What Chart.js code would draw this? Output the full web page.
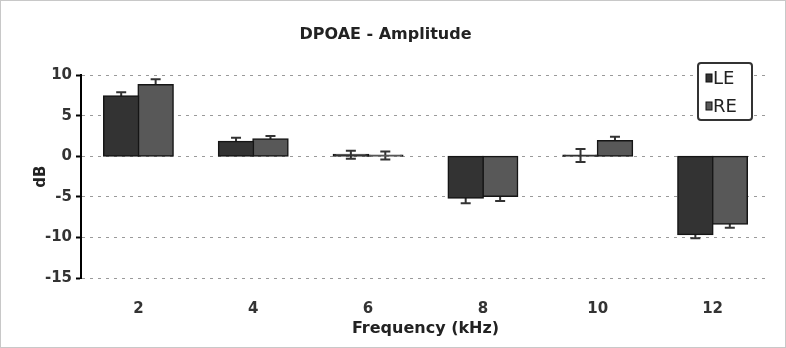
<!DOCTYPE html>
<html><head><meta charset="utf-8">
<script src="https://cdn.jsdelivr.net/npm/chart.js@4/dist/chart.umd.min.js"></script>
<style>
html,body{margin:0;padding:0;background:#fff;}
#wrap{position:relative;width:786px;height:348px;box-sizing:border-box;border:1px solid #c8c8c8;}
canvas{display:block;}
</style></head>
<body>
<div id="wrap"><canvas id="c" width="784" height="346"></canvas></div>
<script>
const categories = ['2', '4', '6', '8', '10', '12'];
const leValues = [7.4, 1.8, 0.2, -5.1, 0.1, -9.6];
const reValues = [8.8, 2.1, 0.1, -4.9, 1.9, -8.3];
const leErrors = [0.5, 0.5, 0.5, 0.7, 0.8, 0.5];
const reErrors = [0.7, 0.4, 0.5, 0.6, 0.5, 0.5];
const yTicks = [10, 5, 0, -5, -10, -15];

const FONT = '"DejaVu Sans", "Liberation Sans", Arial, sans-serif';

const errorBars = {
  id: 'errorBars',
  beforeDatasetsDraw(chart) {
    const ctx = chart.ctx;
    const y = chart.scales.y;
    ctx.save();
    ctx.strokeStyle = '#333';
    ctx.lineWidth = 2;
    chart.data.datasets.forEach((ds, di) => {
      const meta = chart.getDatasetMeta(di);
      meta.data.forEach((bar, i) => {
        const v = ds.data[i], e = ds.errors[i];
        const x = bar.x;
        const y1 = y.getPixelForValue(v - e), y2 = y.getPixelForValue(v + e);
        ctx.beginPath();
        ctx.moveTo(x, y1); ctx.lineTo(x, y2);
        ctx.moveTo(x - 5, y1); ctx.lineTo(x + 5, y1);
        ctx.moveTo(x - 5, y2); ctx.lineTo(x + 5, y2);
        ctx.stroke();
      });
    });
    ctx.restore();
  }
};

const boxLegend = {
  id: 'boxLegend',
  afterDraw(chart) {
    const ctx = chart.ctx;
    ctx.save();
    const bx = 697, by = 62, bw = 54, bh = 57;
    ctx.fillStyle = '#fff';
    ctx.strokeStyle = '#333';
    ctx.lineWidth = 2;
    ctx.beginPath();
    ctx.roundRect(bx, by, bw, bh, 3);
    ctx.fill(); ctx.stroke();
    ctx.font = '18px ' + FONT;
    ctx.textBaseline = 'middle';
    chart.data.datasets.forEach((ds, i) => {
      const cy = by + 15 + i * 28;
      ctx.fillStyle = ds.backgroundColor;
      ctx.strokeStyle = '#111';
      ctx.lineWidth = 1;
      ctx.fillRect(bx + 8, cy - 4, 6, 8);
      ctx.strokeRect(bx + 8, cy - 4, 6, 8);
      ctx.fillStyle = '#222';
      ctx.fillText(ds.label, bx + 15, cy + 1);
    });
    ctx.restore();
  }
};

new Chart(document.getElementById('c'), {
  type: 'bar',
  data: {
    labels: categories,
    datasets: [
      { label: 'LE', data: leValues, errors: leErrors, backgroundColor: '#333333', borderColor: '#151515', borderWidth: 1.5, borderSkipped: false, inflateAmount: 1, categoryPercentage: 0.6, barPercentage: 1.0 },
      { label: 'RE', data: reValues, errors: reErrors, backgroundColor: '#585858', borderColor: '#151515', borderWidth: 1.5, borderSkipped: false, inflateAmount: 1, categoryPercentage: 0.6, barPercentage: 1.0 }
    ]
  },
  options: {
    responsive: false,
    animation: false,
    devicePixelRatio: 1,
    layout: { padding: { left: 0, right: 15, top: 0, bottom: 0 } },
    plugins: {
      legend: { display: false },
      tooltip: { enabled: false },
      title: {
        display: true,
        text: 'DPOAE - Amplitude',
        color: '#222',
        font: { family: FONT, size: 16, weight: 'bold' },
        padding: { top: 24, bottom: 31 }
      }
    },
    scales: {
      x: {
        grid: { display: false },
        border: { display: false },
        ticks: { color: '#333', padding: 14, font: { family: FONT, size: 15, weight: 'bold' } },
        title: { display: true, text: 'Frequency (kHz)', color: '#222', padding: { top: 3, bottom: 9 }, font: { family: FONT, size: 16, weight: 'bold' } },
        afterFit(s) { s.height = 69; }
      },
      y: {
        min: -15, max: 10,
        afterBuildTicks(s) { s.ticks = yTicks.map(v => ({ value: v })); },
        grid: { color: '#9a9a9a', lineWidth: 1, tickColor: '#000', tickLength: 5, tickWidth: 2, tickBorderDash: [] },
        border: { display: true, color: '#000', width: 2, dash: [3, 5] },
        ticks: { color: '#333', padding: 4, font: { family: FONT, size: 15, weight: 'bold' } },
        title: { display: true, text: 'dB', color: '#222', padding: { top: 31, bottom: 0 }, font: { family: FONT, size: 15, weight: 'bold' } },
        afterFit(s) { s.width = 80; }
      }
    }
  },
  plugins: [errorBars, boxLegend]
});
</script>
</body></html>
